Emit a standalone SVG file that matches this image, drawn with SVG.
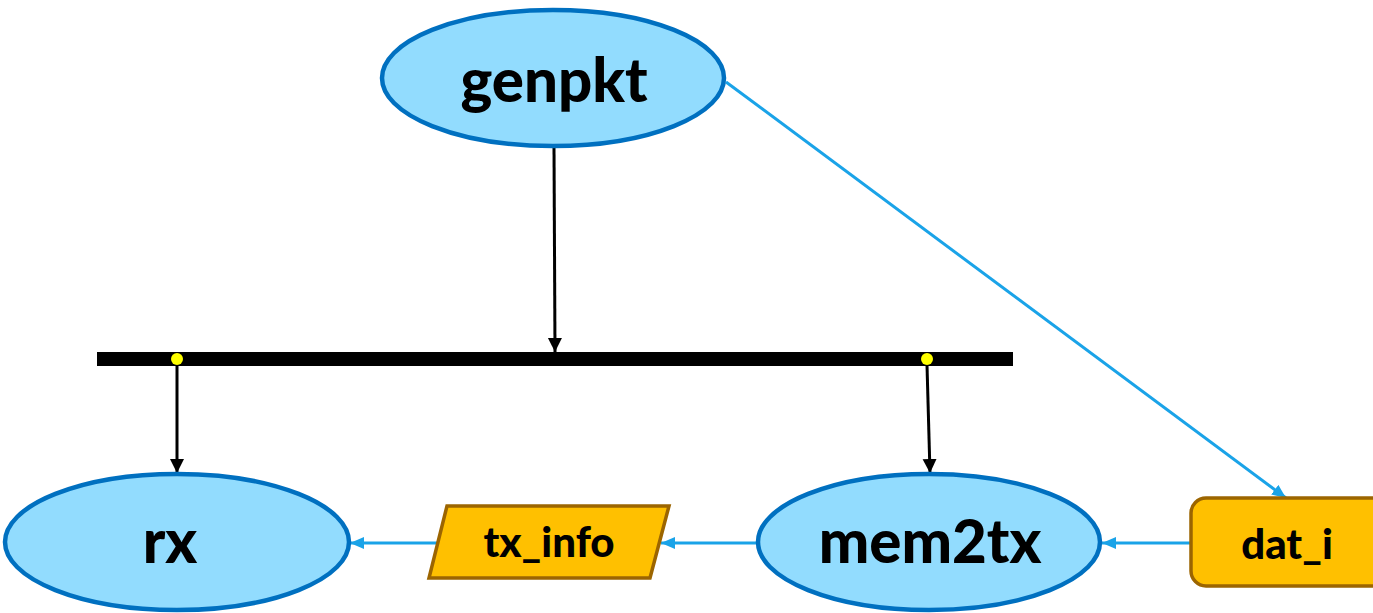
<svg xmlns="http://www.w3.org/2000/svg" width="1373" height="613" viewBox="0 0 1373 613">
  <defs>
    <marker id="ahBlack" markerWidth="16" markerHeight="16" refX="14" refY="7" orient="auto" markerUnits="userSpaceOnUse">
      <path d="M0,0 L14,7 L0,14 Z" fill="#000"/>
    </marker>
    <marker id="ahBlue" markerWidth="16" markerHeight="14" refX="14" refY="6" orient="auto" markerUnits="userSpaceOnUse">
      <path d="M0,0 L14,6 L0,12 Z" fill="#1AA3E8"/>
    </marker>
    <style>
      .proc { fill: #92DCFE; stroke: #0070C0; stroke-width: 4.5; }
      .data { fill: #FFC000; stroke: #9C6500; stroke-width: 3.5; }
      .lbl { font-family: Lato, "Liberation Sans", sans-serif; font-weight: 900; fill: #000; text-anchor: middle; }
      .big { font-size: 60px; }
      .small { font-size: 42px; }
      .blk { stroke: #000; stroke-width: 3; fill: none; marker-end: url(#ahBlack); }
      .blu { stroke: #1AA3E8; stroke-width: 3; fill: none; marker-end: url(#ahBlue); }
    </style>
  </defs>
  <rect width="1373" height="613" fill="#fff"/>

  <!-- bus bar with tap points -->
  <g id="bus">
    <rect x="97" y="352" width="916" height="14" fill="#000"/>
    <circle cx="177" cy="359" r="6" fill="#FFFF00"/>
    <circle cx="927" cy="359" r="6" fill="#FFFF00"/>
  </g>

  <g id="connectors">
    <line class="blk" x1="554" y1="148" x2="555" y2="352"/>
    <line class="blk" x1="177" y1="365" x2="177" y2="473"/>
    <line class="blk" x1="927" y1="365" x2="930" y2="473"/>
    <line class="blu" x1="726" y1="82" x2="1286" y2="498"/>
    <line class="blu" x1="1191" y1="543" x2="1102" y2="543"/>
    <line class="blu" x1="758" y1="543" x2="661" y2="543"/>
    <line class="blu" x1="438" y1="543" x2="350" y2="543"/>
  </g>

  <g id="genpkt">
    <ellipse class="proc" cx="553" cy="78" rx="171" ry="68"/>
    <text class="lbl big" x="554" y="102">genpkt</text>
  </g>

  <g id="rx">
    <ellipse class="proc" cx="177" cy="542" rx="172" ry="68"/>
    <text class="lbl big" x="170" y="563">rx</text>
  </g>

  <g id="mem2tx">
    <ellipse class="proc" cx="929" cy="542" rx="171" ry="68"/>
    <text class="lbl big" x="930" y="563">mem2tx</text>
  </g>

  <g id="tx_info">
    <polygon class="data" points="447,506 669,506 650,578 429,578"/>
    <text class="lbl small" x="549" y="557">tx_info</text>
  </g>

  <g id="dat_i">
    <rect class="data" x="1191" y="498" width="200" height="88" rx="15"/>
    <text class="lbl small" x="1287" y="559">dat_i</text>
  </g>
</svg>
